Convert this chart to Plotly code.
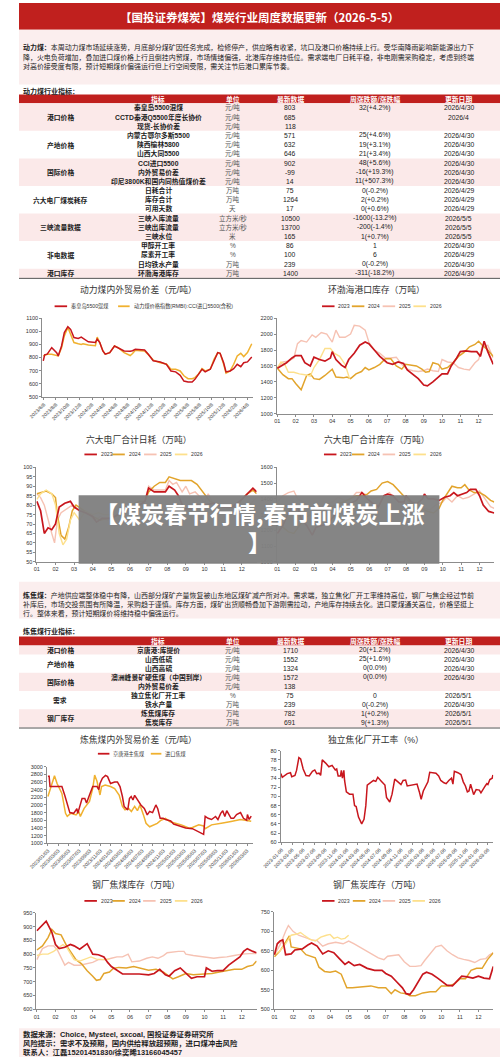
import plotly.graph_objects as go

# ======================= DATA =======================
title_text = "【国投证券煤炭】煤炭行业周度数据更新（2026-5-5）"
thermal_lines = [
    "<b>动力煤：</b>本周动力煤市场延续涨势，月底部分煤矿因任务完成，检修停产，供应略有收紧，坑口及港口价格持续上行。受华南降雨影响新能源出力下",
    "降，火电负荷增加，叠加进口煤价格上行且倒挂内贸煤，市场情绪偏强，北港库存维持低位。需求端电厂日耗平稳，非电刚需采购稳定，考虑到终端",
    "对高价接受度有限，预计短期煤价偏强运行但上行空间受限，需关注节后港口累库节奏。",
]
coking_lines = [
    "<b>炼焦煤：</b>产地供应端整体稳中有降，山西部分煤矿产量恢复被山东地区煤矿减产所对冲。需求端，独立焦化厂开工率维持高位，钢厂与焦企经过节前",
    "补库后，市场交投氛围有所降温，采购趋于谨慎。库存方面，煤矿出货顺畅叠加下游刚需拉动，产地库存持续去化。进口蒙煤通关高位，价格坚挺上",
    "行。整体来看，预计短期煤价将维持稳中偏强运行。",
]
footer_lines = [
    "数据来源：Choice, Mysteel, sxcoal, 国投证券证券研究所",
    "风险提示：需求不及预期，国内供给释放超预期，进口煤冲击风险",
    "联系人：江磊15201451830/徐奕晞13166045457",
]
overlay_lines = ["【煤炭春节行情,春节前煤炭上涨", "】"]

table_header = ["指标", "单位", "最新数据", "周涨跌额/涨跌幅", "更新日期"]

t1_cats = ["港口价格", "产地价格", "国际价格", "六大电厂煤炭耗存", "三峡流量数据", "非电数据", "港口库存"]
t1_cat_rows = [(0, 2), (3, 5), (6, 8), (9, 11), (12, 14), (15, 17), (18, 18)]
t1_names = ["秦皇岛5500混煤", "CCTD秦港Q5500年度长协价", "现货-长协价差", "内蒙古鄂尔多斯5500", "陕西榆林5800",
            "山西大同5500", "CCI进口5500", "内外贸易价差", "印尼3800K和国内同热值煤价差", "日耗合计", "库存合计",
            "可用天数", "三峡入库流量", "三峡出库流量", "三峡水位", "甲醇开工率", "尿素开工率", "日均铁水产量", "环渤海港库存"]
t1_units = ["元/吨", "元/吨", "元/吨", "元/吨", "元/吨", "元/吨", "元/吨", "元/吨", "元/吨", "万吨", "万吨", "天",
            "立方米/秒", "立方米/秒", "米", "%", "%", "万吨", "万吨"]
t1_latest = ["803", "685", "118", "571", "632", "646", "902", "-99", "14", "75", "1264", "17", "10500", "13700",
             "165", "86", "100", "239", "1400"]
t1_change = ["32(+4.2%)", "", "", "25(+4.6%)", "19(+3.1%)", "21(+3.4%)", "48(+5.6%)", "-16(+19.3%)", "11(+507.3%)",
             "0(-0.2%)", "2(+0.2%)", "0(+0.6%)", "-1600(-13.2%)", "-200(-1.4%)", "1(+0.7%)", "1", "6", "0(-0.2%)",
             "-311(-18.2%)"]
t1_dates = ["2026/4/30", "2026/4", "", "2026/4/30", "2026/4/30", "2026/4/30", "2026/4/30", "2026/4/30", "2026/4/30",
            "2026/4/29", "2026/4/29", "2026/4/29", "2026/5/5", "2026/5/5", "2026/5/5", "2026/4/30", "2026/4/29",
            "2026/4/30", "2026/4/30"]

t2_cats = ["港口价格", "产地价格", "国际价格", "需求", "钢厂库存"]
t2_cat_rows = [(0, 0), (1, 2), (3, 4), (5, 6), (7, 8)]
t2_names = ["京唐港:库提价", "山西低硫", "山西高硫", "澳洲峰景矿硬焦煤（中国到岸）", "内外贸易价差", "独立焦化厂开工率",
            "铁水产量", "炼焦煤库存", "焦炭库存"]
t2_units = ["元/吨", "元/吨", "元/吨", "元/吨", "元/吨", "%", "万吨", "万吨", "万吨"]
t2_latest = ["1710", "1552", "1324", "1572", "138", "75", "239", "782", "691"]
t2_change = ["20(+1.2%)", "25(+1.6%)", "0(0.0%)", "0(0.0%)", "", "0", "0(-0.2%)", "1(+0.2%)", "9(+1.3%)"]
t2_dates = ["2026/4/30", "2026/4/30", "2026/4/30", "2026/4/30", "", "2026/5/1", "2026/4/30", "2026/5/1", "2026/5/1"]

# Chart 1: 动力煤内外贸易价差
c1_dates = ["2023-06-05", "2023-06-12", "2023-06-25", "2023-07-18", "2023-08-12", "2023-08-20", "2023-09-06",
            "2023-09-20", "2023-10-08", "2023-10-22", "2023-11-08", "2023-11-30", "2023-12-15", "2023-12-24",
            "2024-01-20", "2024-02-25", "2024-03-05", "2024-03-18", "2024-04-03", "2024-04-15", "2024-05-08",
            "2024-06-01", "2024-06-20", "2024-07-20", "2024-08-20", "2024-09-01", "2024-09-15", "2024-10-10",
            "2024-11-01", "2024-11-20", "2024-12-15", "2025-01-20", "2025-02-20", "2025-03-15", "2025-04-08",
            "2025-05-01", "2025-05-20", "2025-06-10", "2025-07-01", "2025-07-15", "2025-08-01", "2025-08-20",
            "2025-09-05", "2025-10-01", "2025-10-20", "2025-11-08", "2025-11-20", "2025-12-08", "2025-12-20",
            "2026-01-10", "2026-01-28", "2026-02-15", "2026-03-05", "2026-03-20", "2026-04-08", "2026-04-30"]
c1_qhd = [774, 820, 825, 875, 837, 812, 888, 990, 1035, 1015, 952, 945, 955, 945, 920, 915, 940, 915, 850, 825,
          837, 888, 875, 850, 848, 852, 863, 858, 858, 825, 775, 766, 748, 697, 690, 664, 620, 613, 613, 633, 671,
          710, 690, 710, 773, 837, 832, 760, 690, 697, 715, 748, 730, 760, 766, 803]
c1_cci = [812, 815, 825, 825, 812, 812, 875, 965, 1030, 978, 914, 905, 900, 905, 895, 890, 955, 915, 850, 825, 837,
          888, 875, 837, 815, 830, 855, 852, 850, 822, 780, 760, 750, 710, 710, 697, 660, 638, 638, 646, 671, 715,
          697, 710, 786, 837, 832, 748, 680, 697, 748, 812, 832, 807, 837, 905]
c1_ticks = ["2023-06-08", "2023-08-08", "2023-10-08", "2023-12-08", "2024-02-08", "2024-04-08", "2024-06-08",
            "2024-08-08", "2024-10-08", "2024-12-08", "2025-02-08", "2025-04-08", "2025-06-08", "2025-08-08",
            "2025-10-08", "2025-12-08", "2026-02-08", "2026-04-08"]
c1_ticktext = ["2023/6/8", "2023/8/8", "2023/10/8", "2023/12/8", "2024/2/8", "2024/4/8", "2024/6/8", "2024/8/8",
               "2024/10/8", "2024/12/8", "2025/2/8", "2025/4/8", "2025/6/8", "2025/8/8", "2025/10/8", "2025/12/8",
               "2026/2/8", "2026/4/8"]

# Chart 2: 环渤海港口库存
c2_x23 = [1, 1.2, 1.5, 1.8, 2.0, 2.3, 2.5, 2.8, 3.0, 3.3, 3.6, 3.9, 4.0, 4.2, 4.5, 4.7, 4.9, 5.2, 5.5, 5.8, 6.0, 6.3,
          6.6, 7.0, 7.3, 7.6, 7.9, 8.1, 8.4, 8.7, 9.0, 9.2, 9.5, 9.8, 10.0, 10.3, 10.5, 10.8, 11.0, 11.3, 11.6, 11.9,
          12.1, 12.3, 12.5, 12.8]
c2_y23 = [1570, 1600, 1640, 1700, 1730, 1730, 1640, 1600, 1710, 1680, 1660, 1700, 1780, 1680, 1610, 1580, 1680, 1760,
          1860, 1900, 1880, 1800, 1720, 1640, 1620, 1650, 1630, 1550, 1500, 1440, 1360, 1350, 1400, 1460, 1500, 1500,
          1600, 1700, 1780, 1790, 1780, 1780, 1720, 1910, 1780, 1620]
c2_x24 = [1, 1.3, 1.6, 1.8, 2.0, 2.3, 2.6, 2.8, 3.0, 3.3, 3.6, 4.0, 4.2, 4.6, 4.8, 5.0, 5.3, 5.6, 5.8, 6.0, 6.3, 6.6,
          6.9, 7.2, 7.5, 7.8, 8.0, 8.3, 8.6, 8.9, 9.1, 9.3, 9.5, 9.8, 10.0, 10.3, 10.6, 10.9, 11.2, 11.5, 11.8, 12.0,
          12.2, 12.5, 12.8]
c2_y24 = [1570, 1490, 1440, 1440, 1380, 1300, 1480, 1500, 1440, 1430, 1480, 1560, 1460, 1450, 1460, 1440, 1500, 1530,
          1580, 1550, 1580, 1620, 1690, 1690, 1600, 1560, 1620, 1610, 1600, 1560, 1520, 1530, 1640, 1620, 1560, 1580,
          1640, 1720, 1770, 1840, 1870, 1910, 1860, 1800, 1720]
c2_x25 = [1, 1.3, 1.6, 1.9, 2.1, 2.3, 2.6, 2.9, 3.1, 3.4, 3.7, 4.0, 4.2, 4.4, 4.7, 5.0, 5.2, 5.5, 5.8, 6.0, 6.3, 6.6,
          6.9, 7.2, 7.5, 7.8, 8.1, 8.4, 8.7, 9.0, 9.2, 9.5, 9.8, 10.0, 10.3, 10.6, 10.9, 11.2, 11.5, 11.8, 12.0, 12.2,
          12.5, 12.8]
c2_y25 = [1580, 1650, 1660, 1700, 1880, 1920, 1900, 1990, 1960, 2020, 2000, 1900, 2050, 1960, 1960, 2000, 2110, 2100,
          2050, 1900, 1800, 1760, 1700, 1700, 1710, 1620, 1560, 1540, 1530, 1540, 1560, 1540, 1530, 1680, 1650, 1640,
          1580, 1560, 1550, 1640, 1680, 1850, 1860, 1700]
c2_x26 = [1, 1.2, 1.4, 1.6, 1.9, 2.2, 2.5, 2.8, 3.0, 3.3, 3.6, 3.9, 4.1, 4.4, 4.7, 4.95]
c2_y26 = [1580, 1650, 1620, 1520, 1520, 1500, 1490, 1470, 1580, 1680, 1820, 1820, 1760, 1720, 1620, 1440]

# Chart 3: 六大电厂合计日耗
c3_x23 = [1, 1.2, 1.4, 1.6, 1.8, 2.0, 2.2, 2.5, 2.8, 3.0, 3.3, 3.6, 4.0, 4.2, 4.5, 5.0, 5.5, 6.0, 6.5, 6.8, 7.0, 7.3,
          7.6, 7.9, 8.1, 8.4, 8.6, 8.9, 9.3, 9.6, 10.0, 10.5, 11.0, 11.5, 12.0, 12.3, 12.6, 12.8]
c3_y23 = [82, 77, 65, 68, 67, 70, 79, 81, 82, 79, 77, 76, 74, 71, 73, 73, 76, 78, 80, 82, 89, 87, 87, 87, 90, 88, 85,
          78, 78, 80, 80, 81, 79, 79, 83, 86, 89, 87]
c3_x24 = [1, 1.3, 1.5, 1.8, 2.0, 2.1, 2.3, 2.5, 2.7, 2.9, 3.1, 3.4, 3.7, 4.0, 4.4, 4.8, 5.2, 5.6, 6.0, 6.5, 6.8, 7.0,
          7.3, 7.6, 7.9, 8.1, 8.4, 8.7, 9.0, 9.3, 9.6, 10.0, 10.3, 10.7, 11.0, 11.5, 11.8, 12.0, 12.3, 12.6, 12.8]
c3_y24 = [86, 87, 87.5, 86, 84, 75, 64, 62, 68, 77, 80, 78, 76, 74, 72, 73, 74, 76, 80, 82, 82, 87, 90, 92, 92, 95, 94,
          93, 93, 93, 91, 86, 82, 80, 80, 79, 79, 83, 86, 88, 86]
c3_x25 = [1, 1.2, 1.4, 1.6, 1.8, 1.95, 2.1, 2.3, 2.6, 2.9, 3.2, 3.5, 3.8, 4.1, 4.4, 4.8, 5.2, 5.6, 6.0, 6.5, 6.8, 7.0,
          7.3, 7.6, 7.9, 8.1, 8.3, 8.5, 8.8, 9.0, 9.2, 9.5, 9.8, 10.0, 10.2, 10.5, 11.0, 11.5, 12.0, 12.4, 12.8]
c3_y25 = [86, 84, 80, 72, 65, 60, 72, 76, 78, 80, 78, 77, 75, 72, 74, 72, 74, 77, 78, 80, 82, 90, 88, 88, 88, 93, 91,
          92, 87, 90, 86, 87, 84, 81, 86, 80, 79, 78, 80, 80, 84]
c3_x26 = [1, 1.2, 1.5, 1.8, 2.0, 2.2, 2.4, 2.6, 2.8, 3.0, 3.3, 3.6, 4.0, 4.3, 4.6, 4.9]
c3_y26 = [83, 86, 88, 86, 80, 65, 59, 62, 72, 76, 72, 77, 75, 76, 75, 75]

# Chart 4: 六大电厂合计库存
c4_x23 = [1, 1.3, 1.6, 1.9, 2.1, 2.3, 2.6, 2.9, 3.1, 3.4, 3.7, 4.0, 4.3, 4.6, 5.0, 5.3, 5.6, 5.9, 6.2, 6.5, 6.8, 7.0,
          7.3, 7.6, 7.9, 8.0, 8.3, 8.6, 8.9, 9.0, 9.2, 9.5, 9.8, 10.1, 10.4, 10.6, 10.8, 11.0, 11.3, 11.5, 11.8, 12.0,
          12.2, 12.5, 12.8]
c4_y23 = [1180, 1230, 1310, 1370, 1350, 1270, 1230, 1170, 1220, 1230, 1240, 1280, 1320, 1350, 1370, 1390, 1440, 1400,
          1370, 1350, 1420, 1430, 1420, 1380, 1380, 1420, 1380, 1370, 1400, 1430, 1400, 1400, 1390, 1410, 1420, 1440,
          1420, 1430, 1440, 1460, 1460, 1420, 1360, 1320, 1310]
c4_x24 = [1, 1.3, 1.6, 1.9, 2.2, 2.5, 2.8, 3.0, 3.3, 3.6, 4.0, 4.3, 4.6, 5.0, 5.3, 5.6, 5.9, 6.1, 6.4, 6.7, 7.0, 7.3,
          7.6, 7.9, 8.1, 8.5, 8.9, 9.2, 9.5, 9.8, 10.0, 10.3, 10.5, 10.8, 11.0, 11.2, 11.4, 11.7, 12.0, 12.3, 12.6, 12.8]
c4_y24 = [1270, 1220, 1190, 1180, 1230, 1280, 1300, 1290, 1310, 1330, 1350, 1370, 1380, 1400, 1420, 1420, 1430, 1450,
          1460, 1500, 1510, 1490, 1450, 1410, 1390, 1350, 1330, 1320, 1310, 1340, 1390, 1440, 1480, 1470, 1470, 1490,
          1460, 1440, 1440, 1420, 1390, 1380]
c4_x25 = [1, 1.3, 1.6, 1.9, 2.1, 2.4, 2.7, 3.0, 3.3, 3.6, 4.0, 4.3, 4.7, 5.0, 5.3, 5.6, 5.9, 6.2, 6.5, 6.8, 7.1, 7.4,
          7.7, 8.0, 8.3, 8.6, 9.0, 9.3, 9.6, 10.0, 10.2, 10.5, 10.8, 11.1, 11.4, 11.7, 12.0, 12.3, 12.6, 12.8]
c4_y25 = [1380, 1420, 1440, 1450, 1400, 1380, 1350, 1340, 1350, 1360, 1380, 1410, 1390, 1400, 1440, 1440, 1420, 1400,
          1410, 1420, 1440, 1400, 1380, 1360, 1350, 1340, 1340, 1330, 1360, 1380, 1410, 1380, 1420, 1400, 1410, 1430,
          1450, 1400, 1350, 1340]
c4_x26 = [1, 1.3, 1.6, 1.9, 2.2, 2.5, 2.8, 3.1, 3.5, 3.8, 4.1, 4.5, 4.8]
c4_y26 = [1380, 1330, 1280, 1300, 1330, 1300, 1300, 1290, 1280, 1270, 1260, 1270, 1264]

# Chart 5: 炼焦煤内外贸易价差
c5_dates_jt = ["2023-01-03", "2023-01-10", "2023-01-15", "2023-02-15", "2023-03-25", "2023-04-10", "2023-04-25",
               "2023-05-10", "2023-06-01", "2023-06-20", "2023-06-25", "2023-07-20", "2023-08-05", "2023-08-15",
               "2023-09-01", "2023-09-20", "2023-10-15", "2023-10-25", "2023-11-01", "2023-11-15", "2023-12-03",
               "2023-12-15", "2024-01-01", "2024-01-25", "2024-02-10", "2024-02-25", "2024-03-10", "2024-03-20",
               "2024-04-10", "2024-04-20", "2024-04-30", "2024-05-10", "2024-05-20", "2024-06-10", "2024-06-25",
               "2024-07-15", "2024-08-01", "2024-08-15", "2024-09-01", "2024-09-20", "2024-10-01", "2024-10-15",
               "2024-11-01", "2024-11-15", "2024-12-01", "2024-12-15", "2025-01-01", "2025-01-18", "2025-02-15",
               "2025-03-12", "2025-04-20", "2025-05-27", "2025-06-10", "2025-06-24", "2025-07-03", "2025-07-20",
               "2025-08-09", "2025-09-01", "2025-09-15", "2025-10-01", "2025-10-13", "2025-10-25", "2025-11-05",
               "2025-11-30", "2025-12-15", "2026-01-01", "2026-01-24", "2026-02-10", "2026-03-01", "2026-03-05",
               "2026-03-15", "2026-03-27"]
c5_jt = [2750, 2750, 2480, 2480, 2480, 2260, 2000, 1800, 1780, 1900, 1780, 2170, 2170, 2050, 2260, 2480, 2480, 2400,
         2560, 2700, 2770, 2740, 2560, 2600, 2600, 2480, 2220, 1960, 1870, 2170, 2220, 2130, 2250, 2090, 2000, 1910,
         1740, 1830, 1800, 2000, 1900, 1650, 1650, 1620, 1600, 1580, 1500, 1480, 1430, 1400, 1380, 1300, 1250, 1230,
         1700, 1650, 1620, 1700, 1620, 1780, 1850, 1700, 1850, 1650, 1650, 1750, 1800, 1650, 1600, 1750, 1620, 1710]
c5_dates_imp = ["2023-01-03", "2023-01-20", "2023-02-05", "2023-02-10", "2023-02-25", "2023-03-25", "2023-04-15",
                "2023-04-25", "2023-05-15", "2023-06-15", "2023-07-01", "2023-07-10", "2023-08-01", "2023-09-01",
                "2023-09-20", "2023-10-01", "2023-10-15", "2023-11-01", "2023-11-10", "2023-12-01", "2024-01-01",
                "2024-01-25", "2024-02-20", "2024-03-10", "2024-03-25", "2024-04-15", "2024-05-01", "2024-05-20",
                "2024-06-05", "2024-06-20", "2024-07-10", "2024-07-25", "2024-08-15", "2024-09-28", "2024-10-20",
                "2024-11-15", "2024-12-12", "2025-01-18", "2025-02-15", "2025-03-12", "2025-04-01", "2025-04-20",
                "2025-05-27", "2025-06-24", "2025-07-03", "2025-08-09", "2025-09-15", "2025-10-13", "2025-11-30",
                "2025-12-31", "2026-01-24", "2026-02-20", "2026-03-10", "2026-03-27"]
c5_imp = [2220, 2450, 2700, 2760, 2560, 2300, 1780, 1700, 1780, 1740, 1830, 1700, 1910, 2090, 2430, 2780, 2610, 2260,
          2480, 2520, 2480, 2430, 2260, 1960, 1870, 1910, 1830, 1960, 1850, 2000, 1740, 1520, 1430, 1520, 1600, 1650,
          1560, 1520, 1480, 1430, 1390, 1410, 1480, 1450, 1380, 1480, 1500, 1530, 1570, 1600, 1620, 1600, 1580, 1572]
c5_ticks = ["2023-01-03", "2023-03-03", "2023-05-03", "2023-07-03", "2023-09-03", "2023-11-03", "2024-01-03",
            "2024-03-03", "2024-05-03", "2024-07-03", "2024-09-03", "2024-11-03", "2025-01-03", "2025-03-03",
            "2025-05-03", "2025-07-03", "2025-09-03", "2025-11-03", "2026-01-03", "2026-03-03"]

# Chart 6: 独立焦化厂开工率
c6_dates = ["2023-01-01", "2023-01-09", "2023-02-06", "2023-02-24", "2023-03-03", "2023-03-21", "2023-03-30",
            "2023-04-12", "2023-04-22", "2023-05-06", "2023-05-22", "2023-06-09", "2023-06-27", "2023-07-10",
            "2023-07-21", "2023-08-03", "2023-08-12", "2023-08-21", "2023-09-09", "2023-09-27", "2023-10-15",
            "2023-11-02", "2023-11-10", "2023-11-18", "2023-12-01", "2023-12-06", "2023-12-12", "2023-12-20",
            "2023-12-24", "2024-01-03", "2024-01-21", "2024-02-09", "2024-02-18", "2024-02-27", "2024-03-11",
            "2024-03-29", "2024-04-11", "2024-04-21", "2024-04-29", "2024-05-17", "2024-06-03", "2024-06-16",
            "2024-06-27", "2024-07-18", "2024-08-06", "2024-08-15", "2024-09-02", "2024-09-15", "2024-09-30",
            "2024-10-18", "2024-11-04", "2024-11-16", "2024-11-30", "2024-12-09", "2024-12-27", "2025-01-15",
            "2025-02-02", "2025-02-15", "2025-02-25", "2025-03-09", "2025-03-22", "2025-04-04", "2025-04-14",
            "2025-05-01", "2025-05-19", "2025-06-03", "2025-06-15", "2025-07-03", "2025-07-15", "2025-07-30",
            "2025-08-14", "2025-08-22", "2025-08-30", "2025-09-19", "2025-10-06", "2025-10-19", "2025-10-31",
            "2025-11-11", "2025-11-20", "2025-11-29", "2025-12-07", "2025-12-16", "2025-12-30", "2026-01-17",
            "2026-01-26", "2026-02-08", "2026-02-19", "2026-02-28", "2026-03-06", "2026-03-17", "2026-03-26",
            "2026-03-30", "2026-04-03"]
c6_rate = [75.0, 74.2, 75.0, 75.2, 74.3, 74.6, 75.7, 78.5, 78.2, 76.0, 74.6, 74.5, 75.5, 75.8, 75.0, 75.1, 74.6, 78.0,
           77.3, 76.5, 76.8, 75.8, 76.0, 74.5, 74.5, 75.7, 74.0, 75.7, 73.5, 71.0, 70.5, 70.5, 68.0, 67.8, 65.5, 64.0,
           65.0, 68.0, 72.5, 73.0, 73.5, 73.3, 74.2, 73.3, 72.5, 69.8, 68.8, 70.5, 73.8, 73.2, 72.6, 73.5, 73.6, 72.3,
           72.4, 72.6, 72.7, 71.0, 69.4, 71.2, 72.3, 73.2, 75.3, 75.2, 75.1, 74.5, 73.5, 73.0, 72.8, 73.5, 74.0, 72.7,
           75.5, 75.2, 74.8, 73.2, 72.3, 71.0, 71.2, 72.7, 71.5, 70.4, 71.5, 71.4, 70.8, 71.8, 72.3, 72.8, 72.6, 73.7,
           73.8, 74.0, 74.7]
c6_ticks = ["2023-01-06", "2023-03-06", "2023-05-06", "2023-07-06", "2023-09-06", "2023-11-06", "2024-01-06",
            "2024-03-06", "2024-05-06", "2024-07-06", "2024-09-06", "2024-11-06", "2025-01-06", "2025-03-06",
            "2025-05-06", "2025-07-06", "2025-09-06", "2025-11-06", "2026-01-06", "2026-03-06"]

# Chart 7: 钢厂焦煤库存
c7_x23 = [1, 1.2, 1.5, 1.8, 2.0, 2.2, 2.5, 2.8, 3.0, 3.3, 3.5, 3.7, 4.0, 4.3, 4.6, 4.8, 5.0, 5.3, 5.6, 6.0, 6.5, 7.0,
          7.3, 7.6, 7.9, 8.1, 8.4, 8.7, 9.0, 9.3, 9.6, 10.0, 10.1, 10.4, 10.7, 11.0, 11.3, 11.6, 11.9, 12.1, 12.3,
          12.6, 12.8]
c7_y23 = [885, 900, 920, 880, 835, 820, 825, 835, 830, 818, 828, 838, 800, 798, 790, 770, 755, 740, 728, 728, 728, 725,
          730, 745, 725, 720, 740, 750, 730, 712, 718, 718, 750, 738, 740, 740, 760, 775, 790, 810, 820, 810, 805]
c7_x24 = [1, 1.3, 1.6, 1.8, 2.0, 2.3, 2.6, 2.9, 3.1, 3.4, 3.7, 4.0, 4.2, 4.4, 4.6, 4.9, 5.1, 5.4, 5.8, 6.2, 6.6, 7.0,
          7.4, 7.8, 8.0, 8.3, 8.6, 9.0, 9.4, 10.0, 10.4, 10.8, 11.2, 11.6, 12.0, 12.3, 12.6, 12.8]
c7_y24 = [815, 830, 860, 890, 875, 870, 830, 800, 780, 765, 740, 720, 705, 708, 730, 735, 748, 752, 750, 755, 748, 742,
          745, 735, 725, 710, 718, 730, 725, 728, 730, 735, 740, 745, 745, 755, 760, 775]
c7_x25 = [1, 1.3, 1.6, 1.9, 2.1, 2.3, 2.5, 2.7, 3.0, 3.3, 3.6, 4.0, 4.3, 4.7, 5.0, 5.3, 5.6, 5.9, 6.1, 6.5, 6.9, 7.2,
          7.5, 7.8, 8.0, 8.3, 8.6, 8.9, 9.0, 9.4, 9.8, 10.2, 10.5, 10.8, 11.2, 11.6, 12.0, 12.4, 12.8]
c7_y25 = [780, 820, 830, 830, 815, 790, 760, 770, 760, 760, 765, 770, 780, 780, 785, 790, 790, 800, 772, 775, 785, 790,
          785, 795, 805, 808, 810, 810, 800, 795, 792, 788, 785, 788, 790, 795, 800, 802, 802]
c7_x26 = [1, 1.3, 1.6, 1.9, 2.1, 2.4, 2.6, 2.8, 3.0, 3.3, 3.6, 3.9, 4.2, 4.6, 4.9]
c7_y26 = [795, 800, 800, 810, 820, 835, 825, 800, 780, 775, 782, 790, 782, 780, 782]

# Chart 8: 钢厂焦炭库存
c8_x23 = [1, 1.15, 1.3, 1.45, 1.6, 1.9, 2.1, 2.5, 2.8, 3.0, 3.3, 3.6, 3.9, 4.2, 4.5, 4.8, 5.0, 5.3, 5.6, 6.0, 6.4,
          6.8, 7.0, 7.3, 7.6, 7.9, 8.1, 8.3, 8.5, 8.8, 9.0, 9.2, 9.5, 9.8, 10.0, 10.3, 10.6, 10.9, 11.1, 11.4, 11.7,
          12.0, 12.3, 12.6, 12.8]
c8_y23 = [640, 668, 675, 678, 640, 642, 652, 655, 665, 670, 662, 642, 650, 645, 630, 615, 622, 612, 615, 605, 600, 600,
          592, 585, 570, 555, 540, 538, 550, 575, 590, 595, 590, 580, 572, 562, 560, 575, 585, 583, 580, 585, 580, 578,
          610]
c8_x24 = [1, 1.3, 1.6, 1.8, 1.9, 2.1, 2.4, 2.7, 3.0, 3.2, 3.4, 3.7, 4.0, 4.3, 4.6, 4.9, 5.2, 5.5, 5.9, 6.2, 6.6, 7.0,
          7.3, 7.5, 7.8, 8.1, 8.3, 8.6, 9.0, 9.4, 9.7, 10.0, 10.4, 10.7, 11.0, 11.3, 11.6, 11.9, 12.2, 12.5, 12.8]
c8_y24 = [635, 650, 672, 688, 660, 658, 655, 640, 635, 632, 608, 597, 595, 598, 590, 555, 555, 557, 558, 560, 555, 555,
          540, 550, 542, 540, 535, 535, 542, 545, 545, 560, 560, 565, 578, 578, 600, 605, 605, 628, 645]
c8_x25 = [1, 1.3, 1.6, 1.75, 2.0, 2.3, 2.6, 3.0, 3.3, 3.6, 3.9, 4.3, 4.7, 5.0, 5.3, 5.6, 6.0, 6.3, 6.6, 6.9, 7.1, 7.4,
          7.7, 8.0, 8.3, 8.6, 8.9, 9.1, 9.4, 9.7, 10.0, 10.3, 10.6, 10.9, 11.2, 11.5, 11.8, 12.1, 12.4, 12.6, 12.8]
c8_y25 = [640, 665, 700, 715, 700, 690, 685, 678, 676, 662, 668, 672, 668, 675, 668, 660, 648, 642, 632, 627, 636, 638,
          640, 622, 610, 610, 612, 625, 642, 660, 664, 650, 640, 632, 628, 625, 620, 628, 630, 640, 645]
c8_x26 = [1, 1.3, 1.6, 1.9, 2.2, 2.4, 2.6, 2.9, 3.2, 3.5, 3.8, 4.0, 4.2, 4.4, 4.6, 4.8, 5.0]
c8_y26 = [640, 650, 668, 690, 693, 697, 690, 680, 675, 685, 690, 692, 682, 685, 680, 682, 690]

month_ticks = list(range(1, 13))
month_labels = ["01", "02", "03", "04", "05", "06", "07", "08", "09", "10", "11", "12"]
years = ["2023", "2024", "2025", "2026"]

# ======================= STYLE =======================
W, H = 500, 1060
CJK = "Noto Sans CJK SC"
MIX = "Liberation Sans, Noto Sans CJK SC"
HDR = "#c0201e"
PINK = "#fbeeee"
ROWPINK = "#fbe9e9"
YCOL = {"2023": "#c8161d", "2024": "#e2a42c", "2025": "#f6c2b3", "2026": "#fde08c"}
ORG = "#f0b12f"


def X(x):
    return x / W


def Y(y):
    return 1 - y / H


ann, shp = [], []


def text(x, y, s, size=6.8, color="#222", anchor="center", family=MIX, bold=False):
    if bold:
        s = "<b>" + s + "</b>"
    ann.append(dict(x=X(x), y=Y(y), xref="paper", yref="paper", text=s, showarrow=False, xanchor=anchor,
                    yanchor="middle", font=dict(size=size, color=color, family=family)))


def rect(x0, y0, x1, y1, color, layer="below"):
    shp.append(dict(type="rect", xref="paper", yref="paper", x0=X(x0), x1=X(x1), y0=Y(y1), y1=Y(y0),
                    fillcolor=color, line=dict(width=0), layer=layer))


def hline(x0, x1, y, color, width):
    shp.append(dict(type="line", xref="paper", yref="paper", x0=X(x0), x1=X(x1), y0=Y(y), y1=Y(y),
                    line=dict(color=color, width=width)))


# ---------- header & paragraphs ----------
rect(0, 0, 500, 27, HDR)
text(250, 14, title_text, size=11.5, color="white", family=CJK, bold=True)
rect(0, 27, 500, 82, PINK)
for i, s in enumerate(thermal_lines):
    text(2, 44.5 + 9.6 * i, s, size=6.95, color="#222", anchor="left", family=CJK)
text(2, 88, "动力煤行业指标：", size=7.0, color="#222", anchor="left", family=CJK, bold=True)

rect(0, 582, 500, 619, PINK)
for i, s in enumerate(coking_lines):
    text(2, 595 + 9.2 * i, s, size=6.95, color="#222", anchor="left", family=CJK)
text(2, 631.5, "炼焦煤行业指标：", size=7.0, color="#222", anchor="left", family=CJK, bold=True)

rect(0, 1031, 500, 1060, PINK)
for i, s in enumerate(footer_lines):
    text(2, 1037 + 9 * i, s, size=7.4, color="#222", anchor="left", family=MIX, bold=True)

# ---------- tables ----------
COLX = [145, 222, 282, 370, 457]


def draw_table(hy0, hy1, row0, step, cats, cat_rows, names, units, latest, change, dates):
    rect(0, hy0, 500, hy1, HDR)
    for cx, h in zip(COLX, table_header):
        text(cx, (hy0 + hy1) / 2, h, size=6.8, color="white", family=CJK, bold=True)
    for g, ((a, b), c) in enumerate(zip(cat_rows, cats)):
        if g % 2 == 0:
            rect(0, row0 + step * a - step / 2, 500, row0 + step * b + step / 2, ROWPINK)
        text(43, row0 + step * (a + b) / 2, c, size=6.8, color="#222", family=CJK, bold=True)
    for i in range(len(names)):
        yy = row0 + step * i
        text(COLX[0], yy, names[i], size=6.8, color="#222", bold=True)
        text(COLX[1], yy, units[i], size=6.5, color="#555", family=MIX)
        text(COLX[2], yy, latest[i], size=6.8, color="#222")
        text(COLX[3], yy, change[i], size=6.8, color="#222")
        text(COLX[4], yy, dates[i], size=6.8, color="#222")
    hline(0, 500, row0 + step * (len(names) - 1) + step / 2 + 0.5, "#555", 1)


draw_table(92, 100.9, 105.5, 9.24, t1_cats, t1_cat_rows, t1_names, t1_units, t1_latest, t1_change, t1_dates)
draw_table(637, 646.1, 650.7, 9.17, t2_cats, t2_cat_rows, t2_names, t2_units, t2_latest, t2_change, t2_dates)

# ---------- axes ----------
axis_base = dict(showline=True, linecolor="#8c8c8c", linewidth=0.8, showgrid=False, zeroline=False,
                 ticks="outside", ticklen=2, tickcolor="#8c8c8c", tickwidth=0.6,
                 tickfont=dict(size=5.5, family="Liberation Sans", color="#333"))
layout_axes = {}


def make_axes(n, x0, x1, ytop, ybot, xcfg, ycfg):
    s = "" if n == 1 else str(n)
    xa = dict(axis_base)
    xa.update(xcfg)
    xa.update(domain=[X(x0), X(x1)], anchor="y" + s)
    ya = dict(axis_base)
    ya.update(ycfg)
    ya.update(domain=[Y(ybot), Y(ytop)], anchor="x" + s)
    layout_axes["xaxis" + s] = xa
    layout_axes["yaxis" + s] = ya


season_x = dict(range=[0.97, 12.8], tickmode="array", tickvals=month_ticks, ticktext=month_labels)
rot_font = dict(size=5.0, family="Liberation Sans", color="#333")

make_axes(1, 24, 243, 317, 396,
          dict(type="date", range=["2023-05-30", "2026-05-05"], tickmode="array", tickvals=c1_ticks,
               ticktext=c1_ticktext, tickangle=-45, tickfont=rot_font),
          dict(range=[500, 1100], dtick=100, tick0=500))
make_axes(2, 268, 493, 317, 413, season_x, dict(range=[1000, 2200], dtick=200, tick0=1000))
make_axes(3, 18, 247, 467, 562, season_x, dict(range=[50, 100], dtick=5, tick0=50))
make_axes(4, 268, 494, 467, 562, season_x, dict(range=[1000, 1600], dtick=100, tick0=1000))
make_axes(5, 29, 243, 768, 845,
          dict(type="date", range=["2022-12-28", "2026-04-05"], tickmode="array", tickvals=c5_ticks,
               ticktext=[d.replace("-", "/") for d in c5_ticks], tickangle=-45, tickfont=rot_font),
          dict(range=[1000, 3000], dtick=200, tick0=1000))
make_axes(6, 272, 493, 752, 844,
          dict(type="date", range=["2022-12-31", "2026-04-05"], tickmode="array", tickvals=c6_ticks,
               ticktext=c6_ticks, tickangle=-45, tickfont=rot_font),
          dict(range=[60, 80], dtick=2, tick0=60))
make_axes(7, 18, 247, 915, 1012, season_x, dict(range=[600, 950], dtick=50, tick0=600))
make_axes(8, 265, 493, 914, 1012, season_x, dict(range=[500, 750], dtick=50, tick0=500))

fig = go.Figure()


def line(n, x, y, color, width=1.5):
    s = "" if n == 1 else str(n)
    fig.add_trace(go.Scatter(x=x, y=y, mode="lines", xaxis="x" + s, yaxis="y" + s,
                             line=dict(color=color, width=width), hoverinfo="skip", showlegend=False))


# chart 1
line(1, c1_dates, c1_cci, ORG, 1.5)
line(1, c1_dates, c1_qhd, YCOL["2023"], 1.5)
# chart 5
line(5, c5_dates_imp, c5_imp, ORG, 1.5)
line(5, c5_dates_jt, c5_jt, YCOL["2023"], 1.5)
# chart 6
line(6, c6_dates, c6_rate, YCOL["2023"], 1.5)

seasonal = {
    2: (c2_x23, c2_y23, c2_x24, c2_y24, c2_x25, c2_y25, c2_x26, c2_y26),
    3: (c3_x23, c3_y23, c3_x24, c3_y24, c3_x25, c3_y25, c3_x26, c3_y26),
    4: (c4_x23, c4_y23, c4_x24, c4_y24, c4_x25, c4_y25, c4_x26, c4_y26),
    7: (c7_x23, c7_y23, c7_x24, c7_y24, c7_x25, c7_y25, c7_x26, c7_y26),
    8: (c8_x23, c8_y23, c8_x24, c8_y24, c8_x25, c8_y25, c8_x26, c8_y26),
}
for n, d in seasonal.items():
    line(n, d[4], d[5], YCOL["2025"], 1.4)
    line(n, d[2], d[3], YCOL["2024"], 1.5)
    line(n, d[6], d[7], YCOL["2026"], 1.4)
    line(n, d[0], d[1], YCOL["2023"], 1.7)

# ---------- titles & legends ----------
titles = [(124, 288, "动力煤内外贸易价差（元/吨）"), (372, 288, "环渤海港口库存（万吨）"),
          (125, 439, "六大电厂合计日耗（万吨）"), (372, 439, "六大电厂合计库存（万吨）"),
          (124, 741, "炼焦煤内外贸易价差（元/吨）"), (371, 741, "独立焦化厂开工率（%）"),
          (122, 887, "钢厂焦煤库存（万吨）"), (372, 887, "钢厂焦炭库存（万吨）")]
for x, y, s in titles:
    text(x, y, s, size=8.8, color="#333", family=MIX)


def legend_item(x0, x1, y, color, label):
    hline(x0, x1, y, color, 1.8)
    text(x1 + 2, y, label, size=5.2, color="#333", anchor="left", family=MIX)


legend_item(37, 50, 305, YCOL["2023"], "秦皇岛5500混煤")
legend_item(103, 115, 305, ORG, "动力煤价格指数(RMBI):CCI进口5500(含税)")
legend_item(82, 94, 755, YCOL["2023"], "京唐港主焦煤")
legend_item(137, 148, 755, ORG, "进口焦煤")

for (ly, xs_list) in [(305, [315, 346, 378, 410]), (454, [68, 97, 130, 162]), (454, [317, 346, 378, 410]),
                      (903, [68, 97, 129, 162]), (903, [315, 347, 378, 409])]:
    for yr, x0 in zip(years, xs_list):
        legend_item(x0, x0 + 13, ly, YCOL[yr], yr)

# ---------- overlay ----------
rect(62, 495, 437, 564, "rgba(128,128,128,0.96)", layer="above")
text(250, 513, overlay_lines[0], size=23, color="white", family=CJK, bold=True)
text(250, 542, overlay_lines[1], size=23, color="white", family=CJK, bold=True)

fig.update_layout(width=W, height=H, margin=dict(l=0, r=0, t=0, b=0), paper_bgcolor="white",
                  plot_bgcolor="rgba(0,0,0,0)", showlegend=False, annotations=ann, shapes=shp, **layout_axes)

fig.write_html("out.html", config={"displayModeBar": False},
               post_script="document.body.style.margin='0';")
